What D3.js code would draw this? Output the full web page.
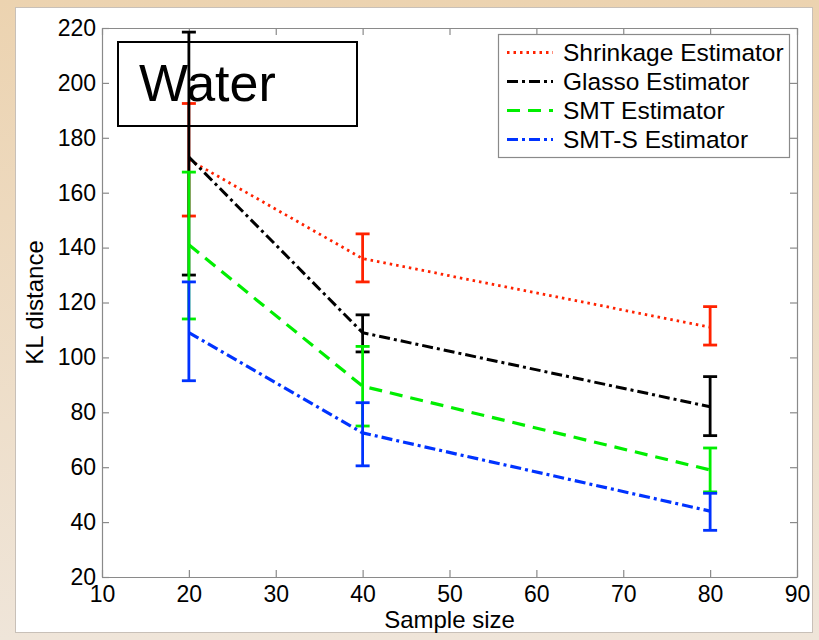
<!DOCTYPE html>
<html>
<head>
<meta charset="utf-8">
<script src="https://cdn.jsdelivr.net/npm/d3@7"></script>
<style>
  body { margin: 0; }
  svg { display: block; font-family: "Liberation Sans", Arial, sans-serif; }
</style>
</head>
<body>
<div id="chart"></div>
<script>
// values
const sampleSizes = [20, 40, 80];
const seriesNames = ["Shrinkage Estimator", "Glasso Estimator", "SMT Estimator", "SMT-S Estimator"];
const shrinkMean = [172, 136, 111];
const shrinkLow = [151.5, 127.5, 104.5];
const shrinkHigh = [192.5, 145, 118.5];
const glassoMean = [173, 109, 82];
const glassoLow = [130, 102, 71.5];
const glassoHigh = [218.5, 115.5, 93];
const smtMean = [141, 89.5, 59];
const smtLow = [114, 75, 51];
const smtHigh = [167.5, 104, 67];
const smtsMean = [109, 72.5, 44];
const smtsLow = [91.5, 60.5, 37];
const smtsHigh = [127.5, 83.5, 50.5];
const xTicks = [10, 20, 30, 40, 50, 60, 70, 80, 90];
const yTicks = [20, 40, 60, 80, 100, 120, 140, 160, 180, 200, 220];

const W = 819, H = 640;
const margin = { top: 28, right: 22, bottom: 63, left: 102 };
const iw = W - margin.left - margin.right;
const ih = H - margin.top - margin.bottom;

const styles = [
  { color: "#ff2200", dash: "2.5,4", width: 2.8 },
  { color: "#000000", dash: "11,4,3,4", width: 3 },
  { color: "#00ee00", dash: "13,8", width: 3.2 },
  { color: "#0033ff", dash: "11,4,3,4", width: 3.2 },
];
const series = [
  [shrinkMean, shrinkLow, shrinkHigh],
  [glassoMean, glassoLow, glassoHigh],
  [smtMean, smtLow, smtHigh],
  [smtsMean, smtsLow, smtsHigh],
].map((s, i) => ({
  name: seriesNames[i],
  style: styles[i],
  pts: sampleSizes.map((x, j) => ({ x, y: s[0][j], lo: s[1][j], hi: s[2][j] })),
}));

const svg = d3.select("#chart").append("svg").attr("width", W).attr("height", H);

// beige frame + white panel
const grad = svg.append("defs").append("linearGradient")
  .attr("id", "bg").attr("x1", 0).attr("y1", 0).attr("x2", 0).attr("y2", 1);
grad.append("stop").attr("offset", "0%").attr("stop-color", "#ecd3b0");
grad.append("stop").attr("offset", "100%").attr("stop-color", "#efe5d9");
svg.append("rect").attr("width", W).attr("height", H).attr("fill", "url(#bg)");
svg.append("rect").attr("x", 15.5).attr("y", 7.5).attr("width", 797).attr("height", 625)
  .attr("fill", "#fff").attr("stroke", "#c8c0b8");

const x = d3.scaleLinear().domain([10, 90]).range([0, iw]);
const y = d3.scaleLinear().domain([20, 220]).range([ih, 0]);

const g = svg.append("g").attr("transform", `translate(${margin.left},${margin.top})`);

// axes (ticks point inward, box on all sides)
const axisColor = "#8a8a8a";
function styleAxis(sel) {
  sel.selectAll("path, line").attr("stroke", axisColor).attr("stroke-width", 1.2);
  sel.selectAll("text").attr("fill", "#000").attr("font-size", 23);
}
g.append("g").attr("transform", `translate(0,${ih})`)
  .call(d3.axisBottom(x).tickValues(xTicks).tickSizeInner(-7).tickSizeOuter(0).tickPadding(9))
  .call(styleAxis).attr("font-family", null);
g.append("g")
  .call(d3.axisLeft(y).tickValues(yTicks).tickSizeInner(-7).tickSizeOuter(0).tickPadding(6))
  .call(styleAxis).attr("font-family", null);
g.append("g")
  .call(d3.axisTop(x).tickValues(xTicks).tickSizeInner(-7).tickSizeOuter(0).tickFormat(""))
  .call(styleAxis);
g.append("g").attr("transform", `translate(${iw},0)`)
  .call(d3.axisRight(y).tickValues(yTicks).tickSizeInner(-7).tickSizeOuter(0).tickFormat(""))
  .call(styleAxis);

// axis titles
svg.append("text").attr("x", margin.left + iw / 2).attr("y", 628)
  .attr("text-anchor", "middle").attr("font-size", 24).text("Sample size");
svg.append("text").attr("transform", `translate(43,${margin.top + ih / 2}) rotate(-90)`)
  .attr("text-anchor", "middle").attr("font-size", 24).text("KL distance");

// "Water" annotation box (drawn beneath the data)
svg.append("rect").attr("x", 118).attr("y", 42).attr("width", 239).attr("height", 84)
  .attr("fill", "none").attr("stroke", "#000").attr("stroke-width", 2);
svg.append("text").attr("x", 139).attr("y", 101).attr("font-size", 52).text("Water");

// series: line + error bars
const line = d3.line().x(d => x(d.x)).y(d => y(d.y));
const capW = 7;
series.forEach(s => {
  const sg = g.append("g");
  sg.append("path").datum(s.pts).attr("d", line)
    .attr("fill", "none").attr("stroke", s.style.color)
    .attr("stroke-width", s.style.width).attr("stroke-dasharray", s.style.dash);
  const bars = sg.selectAll(".eb").data(s.pts).join("g")
    .attr("stroke", s.style.color).attr("stroke-width", 2.8);
  bars.append("line").attr("x1", d => x(d.x)).attr("x2", d => x(d.x))
    .attr("y1", d => y(d.lo)).attr("y2", d => y(d.hi));
  bars.append("line").attr("x1", d => x(d.x) - capW).attr("x2", d => x(d.x) + capW)
    .attr("y1", d => y(d.lo)).attr("y2", d => y(d.lo));
  bars.append("line").attr("x1", d => x(d.x) - capW).attr("x2", d => x(d.x) + capW)
    .attr("y1", d => y(d.hi)).attr("y2", d => y(d.hi));
});

// legend
const lg = svg.append("g").attr("transform", "translate(498,34)");
lg.append("rect").attr("x", 0.5).attr("y", 0.5).attr("width", 291).attr("height", 123)
  .attr("fill", "#fff").attr("stroke", "#8a8a8a").attr("stroke-width", 1.2);
series.forEach((s, i) => {
  const cy = 18.5 + i * 29;
  lg.append("line").attr("x1", 9).attr("x2", 55).attr("y1", cy).attr("y2", cy)
    .attr("stroke", s.style.color).attr("stroke-width", s.style.width)
    .attr("stroke-dasharray", s.style.dash);
  lg.append("text").attr("x", 65).attr("y", cy).attr("dy", "0.35em")
    .attr("font-size", 24.5).text(s.name);
});
</script>
</body>
</html>
